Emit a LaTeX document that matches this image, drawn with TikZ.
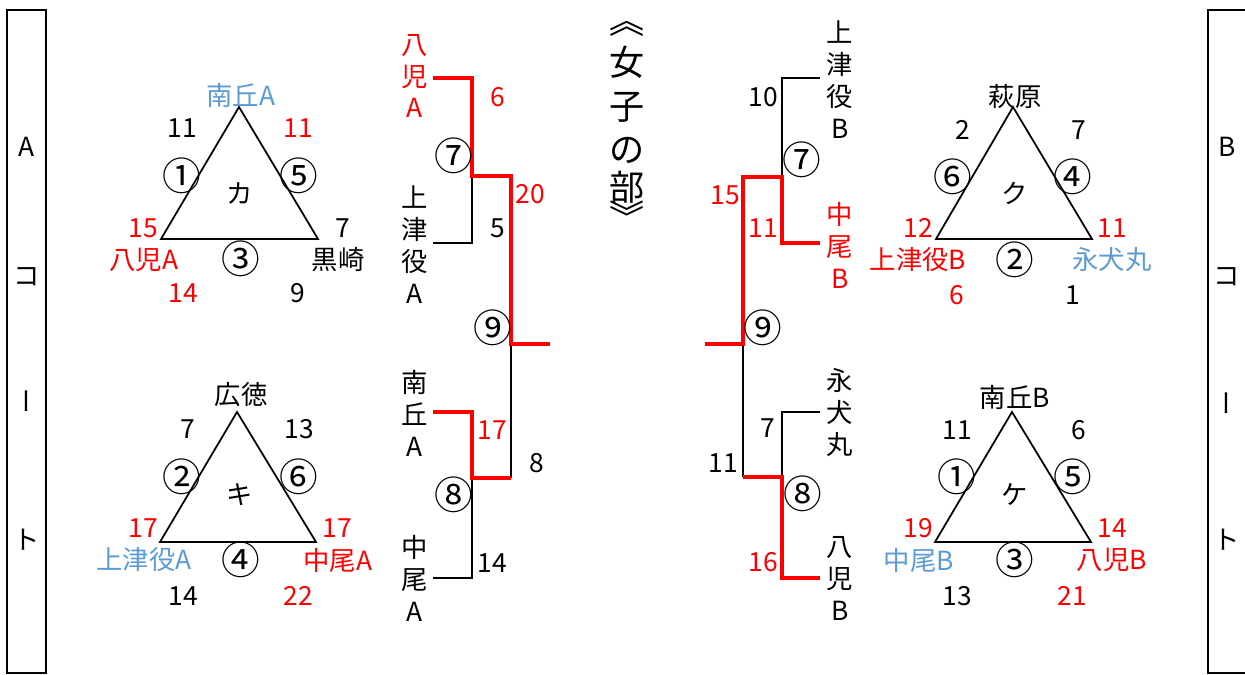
\documentclass[tikz,border=0pt]{standalone}
\usepackage{fontspec}
\setmainfont{Noto Sans CJK JP}
\newfontfamily\vjp[RawFeature=+vert]{Noto Sans CJK JP}
\definecolor{teamblue}{HTML}{5B9BD5}

\begin{document}
\begin{tikzpicture}[x=0.02cm,y=-0.02cm]
	\tikzstyle{lbl}=[inner sep=0pt,font=\fontsize{15pt}{18.2pt}\selectfont]
	\tikzstyle{rl}=[lbl,text=red]
	\tikzstyle{bl}=[lbl,text=teamblue]
	\tikzstyle{vbar}=[inner sep=0pt,font=\vjp\fontsize{15pt}{18.2pt}\selectfont]
	\tikzstyle{circ}=[inner sep=0pt,font=\fontsize{22pt}{24pt}\selectfont]
	\tikzstyle{vtxt}=[lbl,align=center]
	\tikzstyle{ttl}=[inner sep=0pt,font=\fontsize{20pt}{24pt}\selectfont]
	\tikzstyle{win}=[draw=red,line width=2.3pt]
	\tikzstyle{lose}=[draw=black,line width=1.1pt]
	\tikzstyle{tri}=[draw=black,line width=1pt,line join=miter]
	\useasboundingbox (0,0) rectangle (1245,675);
	\draw[line width=1pt] (7,10) rectangle (46,673);
	\draw[line width=1pt] (1208,10) rectangle (1250,673);
	\node[lbl] (ca1) at (27,147) {A};
	\node[lbl] (ca2) at (27,277) {コ};
	\node[vbar] (ca3) at (27,401) {ー};
	\node[lbl] (ca4) at (27,540) {ト};
	\node[lbl] (cb1) at (1227,147) {B};
	\node[lbl] (cb2) at (1227,277) {コ};
	\node[vbar] (cb3) at (1227,403) {ー};
	\node[lbl] (cb4) at (1227,540) {ト};
	\coordinate (kaT) at (239,107);
	\coordinate (kaL) at (161,239);
	\coordinate (kaR) at (318,239);
	\draw[tri] (kaT) -- (kaL) -- (kaR) -- cycle;
	\node[bl] (kaTn) at (241,95) {南丘A};
	\node[lbl] (kaS1) at (182,128) {11};
	\node[rl] (kaS2) at (298,128) {11};
	\node[circ] (kaG1) at (182,176) {①};
	\node[circ] (kaG5) at (299,176) {⑤};
	\node[lbl] (kaN) at (240,193) {カ};
	\node[rl] (kaS3) at (143,228) {15};
	\node[lbl] (kaS4) at (343,228) {7};
	\node[rl] (kaLn) at (144,260) {八児A};
	\node[circ] (kaG3) at (241,259) {③};
	\node[lbl] (kaRn) at (338,260) {黒崎};
	\node[rl] (kaS5) at (183,293) {14};
	\node[lbl] (kaS6) at (298,293) {9};
	\coordinate (kiT) at (237,412);
	\coordinate (kiL) at (160,542);
	\coordinate (kiR) at (316,542);
	\draw[tri] (kiT) -- (kiL) -- (kiR) -- cycle;
	\node[lbl] (kiTn) at (241,395) {広徳};
	\node[lbl] (kiS1) at (188,429) {7};
	\node[lbl] (kiS2) at (299,429) {13};
	\node[circ] (kiG2) at (182,477) {②};
	\node[circ] (kiG6) at (299,477) {⑥};
	\node[lbl] (kiN) at (240,495) {キ};
	\node[rl] (kiS3) at (143,528) {17};
	\node[rl] (kiS4) at (337,528) {17};
	\node[bl] (kiLn) at (144,560) {上津役A};
	\node[circ] (kiG4) at (241,560) {④};
	\node[rl] (kiRn) at (338,560) {中尾A};
	\node[lbl] (kiS5) at (183,596) {14};
	\node[rl] (kiS6) at (298,596) {22};
	\coordinate (kuT) at (1013,107);
	\coordinate (kuL) at (936,239);
	\coordinate (kuR) at (1092,239);
	\draw[tri] (kuT) -- (kuL) -- (kuR) -- cycle;
	\node[lbl] (kuTn) at (1015,97) {萩原};
	\node[lbl] (kuS1) at (963,130) {2};
	\node[lbl] (kuS2) at (1079,130) {7};
	\node[circ] (kuG6) at (953,177) {⑥};
	\node[circ] (kuG4) at (1073,177) {④};
	\node[lbl] (kuN) at (1015,193) {ク};
	\node[rl] (kuS3) at (918,228) {12};
	\node[rl] (kuS4) at (1112,228) {11};
	\node[rl] (kuLn) at (918,260) {上津役B};
	\node[circ] (kuG2) at (1015,260) {②};
	\node[bl] (kuRn) at (1112,260) {永犬丸};
	\node[rl] (kuS5) at (957,295) {6};
	\node[lbl] (kuS6) at (1073,295) {1};
	\coordinate (keT) at (1012,412);
	\coordinate (keL) at (935,542);
	\coordinate (keR) at (1091,542);
	\draw[tri] (keT) -- (keL) -- (keR) -- cycle;
	\node[lbl] (keTn) at (1015,397) {南丘B};
	\node[lbl] (keS1) at (957,430) {11};
	\node[lbl] (keS2) at (1079,430) {6};
	\node[circ] (keG1) at (957,477) {①};
	\node[circ] (keG5) at (1073,477) {⑤};
	\node[lbl] (keN) at (1015,495) {ケ};
	\node[rl] (keS3) at (918,528) {19};
	\node[rl] (keS4) at (1112,528) {14};
	\node[bl] (keLn) at (919,560) {中尾B};
	\node[circ] (keG3) at (1015,560) {③};
	\node[rl] (keRn) at (1112,560) {八児B};
	\node[lbl] (keS5) at (957,596) {13};
	\node[rl] (keS6) at (1072,596) {21};
	\node[ttl] (tt0) at (627,29) {︽};
	\node[ttl] (tt1) at (627,62) {女};
	\node[ttl] (tt2) at (627,107) {子};
	\node[ttl] (tt3) at (627,150) {の};
	\node[ttl] (tt4) at (627,187) {部};
	\node[ttl] (tt5) at (627,216) {︾};
	\node[vtxt,text=red] (hachiA) at (415,76) {八\\児\\A};
	\node[vtxt] (kouA) at (415,245) {上\\津\\役\\A};
	\node[vtxt] (minA) at (415,413) {南\\丘\\A};
	\node[vtxt] (nakA) at (415,578) {中\\尾\\A};
	\node[vtxt] (kouB) at (840,80) {上\\津\\役\\B};
	\node[vtxt,text=red] (nakB) at (840,245) {中\\尾\\B};
	\node[vtxt] (eiB) at (840,413) {永\\犬\\丸};
	\node[vtxt] (hachiB) at (840,578) {八\\児\\B};
	\coordinate (eHA) at (433,78);
	\coordinate (eKA) at (433,243);
	\coordinate (eMA) at (433,412);
	\coordinate (eNA) at (433,578);
	\coordinate (m7L) at (472,176);
	\coordinate (m8L) at (472,478);
	\coordinate (m9L) at (511,344);
	\coordinate (b9L) at (511,478);
	\coordinate (finL) at (550,344);
	\draw[lose] (eKA) -| (m7L);
	\draw[lose] (eNA) -| (m8L);
	\draw[lose] (m9L) -- (b9L);
	\draw[win] (eHA) -| (m7L) -| (m9L) -- (finL);
	\draw[win] (eMA) -| (m8L) -- (b9L);
	\node[rl] (sL1) at (498,97) {6};
	\node[circ] (gL7) at (454,156) {⑦};
	\node[rl] (sL2) at (530,194) {20};
	\node[lbl] (sL3) at (498,228) {5};
	\node[circ] (gL9) at (493,328) {⑨};
	\node[rl] (sL4) at (492,430) {17};
	\node[lbl] (sL5) at (537,463) {8};
	\node[circ] (gL8) at (454,495) {⑧};
	\node[lbl] (sL6) at (492,563) {14};
	\coordinate (eKB) at (820,78);
	\coordinate (eMB) at (820,243);
	\coordinate (eEB) at (820,412);
	\coordinate (eHB) at (820,578);
	\coordinate (m7R) at (782,177);
	\coordinate (m8R) at (782,477);
	\coordinate (m9R) at (743,344);
	\coordinate (b9R) at (743,477);
	\coordinate (finR) at (705,344);
	\draw[lose] (eKB) -| (m7R);
	\draw[lose] (eEB) -| (m8R);
	\draw[lose] (m9R) -- (b9R);
	\draw[win] (eMB) -| (m7R) -| (m9R) -- (finR);
	\draw[win] (eHB) -| (m8R) -- (b9R);
	\node[lbl] (sR1) at (763,97) {10};
	\node[circ] (gR7) at (802,160) {⑦};
	\node[rl] (sR2) at (725,195) {15};
	\node[rl] (sR3) at (763,228) {11};
	\node[circ] (gR9) at (763,328) {⑨};
	\node[lbl] (sR4) at (768,428) {7};
	\node[lbl] (sR5) at (723,463) {11};
	\node[circ] (gR8) at (803,494) {⑧};
	\node[rl] (sR6) at (763,562) {16};
\end{tikzpicture}
\end{document}
